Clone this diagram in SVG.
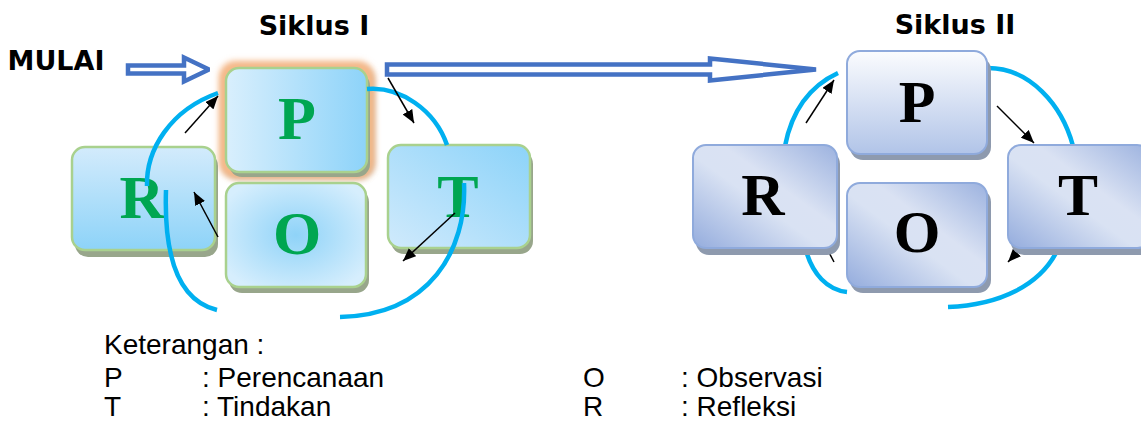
<svg xmlns="http://www.w3.org/2000/svg" width="1141" height="428" viewBox="0 0 1141 428">
  <defs>
    <style>
      .b1{stroke:#a9d18e;stroke-width:2.5}
      .b2{stroke:#8faadc;stroke-width:2}
      .sh1{fill:#98a68b}
      .sh2{fill:#8e9aae}
      .L1{font-family:"Liberation Serif",serif;font-weight:bold;font-size:62px;fill:#00a651;text-anchor:middle}
      .L2{font-family:"Liberation Serif",serif;font-weight:bold;font-size:60px;fill:#000;text-anchor:middle}
      .arc{fill:none;stroke:#00b0f0;stroke-width:4.5}
      .ar{fill:none;stroke:#000;stroke-width:1.5;marker-end:url(#ah)}
      .dbl{fill:#fff;stroke:#4472c4;stroke-width:4.5;stroke-linejoin:miter;stroke-miterlimit:2}
      .title{font-family:"DejaVu Sans",sans-serif;font-weight:bold;font-size:27px;fill:#000}
      .leg{font-family:"Liberation Sans",sans-serif;font-size:28px;fill:#000}
    </style>
    <marker id="ah" markerUnits="userSpaceOnUse" markerWidth="13" markerHeight="11" refX="13" refY="5.5" orient="auto">
      <path d="M0,0 L13,5.5 L0,11 Z" fill="#000"/>
    </marker>
    <linearGradient id="g1P" x1="0" y1="0" x2="1" y2="0">
      <stop offset="0" stop-color="#d9effd"/>
      <stop offset="1" stop-color="#8dd3f9"/>
    </linearGradient>
    <linearGradient id="g1R" x1="0" y1="0" x2="0" y2="1">
      <stop offset="0" stop-color="#d3ebfc"/>
      <stop offset="1" stop-color="#8dd3f8"/>
    </linearGradient>
    <linearGradient id="g1T" x1="0" y1="1" x2="1" y2="0">
      <stop offset="0" stop-color="#d0eafc"/>
      <stop offset="1" stop-color="#8cd3f9"/>
    </linearGradient>
    <radialGradient id="g1O" cx="0.5" cy="0.5" r="0.6">
      <stop offset="0" stop-color="#8fd3f8"/>
      <stop offset="1" stop-color="#d6eefd"/>
    </radialGradient>
    <linearGradient id="g2P" x1="0" y1="0" x2="0" y2="1">
      <stop offset="0" stop-color="#fbfcfe"/>
      <stop offset="1" stop-color="#b1c4e8"/>
    </linearGradient>
    <linearGradient id="g2D" x1="0" y1="1" x2="1" y2="0">
      <stop offset="0" stop-color="#94acdd"/>
      <stop offset="0.45" stop-color="#d9e2f3"/>
      <stop offset="0.6" stop-color="#dae2f3"/>
      <stop offset="1" stop-color="#9cb2df"/>
    </linearGradient>
    <filter id="glow" x="-20%" y="-20%" width="140%" height="140%">
      <feGaussianBlur stdDeviation="3"/>
    </filter>
  </defs>

  <rect width="1141" height="428" fill="#fff"/>

  <!-- headings -->
  <text class="title" x="314" y="35" text-anchor="middle">Siklus I</text>
  <text class="title" x="955" y="34" text-anchor="middle">Siklus II</text>
  <text class="title" x="56" y="70" text-anchor="middle">MULAI</text>

  <!-- Siklus II connectors sit behind its boxes -->
  <g id="connectors-2">
    <path class="arc" d="M988,68 C1030,68 1062,105 1073,146"/>
    <path class="arc" d="M785,146 C792,110 810,86 838,73"/>
    <path class="arc" d="M805,247 C812,275 828,290 847,292"/>
    <path class="arc" d="M1057,251 C1040,285 1000,305 948,307"/>
    <path class="ar" d="M806,123 L834,80"/>
    <path class="ar" d="M997,106 L1034,143"/>
    <path class="ar" d="M834,262 L815,226"/>
    <path class="ar" d="M1040,228 L1008,262"/>
  </g>

  <!-- Siklus I nodes -->
  <g id="c1-P">
    <rect x="223" y="66" width="151" height="113" rx="15" fill="#b07a48" opacity="0.7" filter="url(#glow)"/>
    <rect x="219" y="61" width="155" height="117" rx="16" fill="#f6b989" filter="url(#glow)"/>
    <rect class="sh1" x="229" y="73" width="141" height="104" rx="13"/>
    <rect class="b1" x="226" y="68" width="141" height="104" rx="13" fill="url(#g1P)"/>
    <text class="L1" x="297" y="139">P</text>
  </g>
  <g id="c1-R">
    <rect class="sh1" x="75" y="153" width="143" height="104" rx="13"/>
    <rect class="b1" x="72" y="147" width="143" height="103" rx="13" fill="url(#g1R)"/>
    <text class="L1" x="142" y="218">R</text>
  </g>
  <g id="c1-O">
    <rect class="sh1" x="229" y="189" width="140" height="104" rx="13"/>
    <rect class="b1" x="226" y="183" width="140" height="104" rx="13" fill="url(#g1O)"/>
    <text class="L1" x="297" y="254">O</text>
  </g>
  <g id="c1-T">
    <rect class="sh1" x="391" y="151" width="142" height="103" rx="13"/>
    <rect class="b1" x="388" y="145" width="142" height="103" rx="13" fill="url(#g1T)"/>
    <text class="L1" x="458" y="217">T</text>
  </g>

  <!-- Siklus I connectors drawn over its boxes -->
  <g id="connectors-1">
    <path class="dbl" d="M128,65.5 L184,65.5 L184,57.5 L209,69.5 L184,81.5 L184,73.5 L128,73.5 Z"/>
    <path class="dbl" d="M387,64.5 L710,64.5 L710,58.5 L816,69.5 L710,80.5 L710,74.5 L387,74.5 Z"/>
    <path class="arc" d="M367,89 C400,86 435,110 447,145"/>
    <path class="arc" d="M147,186 C146,150 170,110 218,93"/>
    <path class="arc" d="M166,190 C164,250 175,300 217,310"/>
    <path class="arc" d="M464,183 C467,250 430,315 340,317"/>
    <path class="ar" d="M185,133 L218,96"/>
    <path class="ar" d="M388,78 L414,123"/>
    <path class="ar" d="M455,213 L403,261"/>
    <path class="ar" d="M218,237 L194,192"/>
  </g>

  <!-- Siklus II nodes -->
  <g id="c2-P">
    <rect class="sh2" x="850" y="57" width="141" height="103" rx="13"/>
    <rect class="b2" x="847" y="51" width="140" height="103" rx="13" fill="url(#g2P)"/>
    <text class="L2" x="917" y="122">P</text>
  </g>
  <g id="c2-R">
    <rect class="sh2" x="696" y="151" width="144" height="104" rx="13"/>
    <rect class="b2" x="693" y="145" width="144" height="103" rx="13" fill="url(#g2D)"/>
    <text class="L2" x="763" y="215">R</text>
  </g>
  <g id="c2-O">
    <rect class="sh2" x="850" y="189" width="141" height="104" rx="13"/>
    <rect class="b2" x="847" y="183" width="140" height="104" rx="13" fill="url(#g2D)"/>
    <text class="L2" x="917" y="252">O</text>
  </g>
  <g id="c2-T">
    <rect class="sh2" x="1011" y="151" width="142" height="104" rx="13"/>
    <rect class="b2" x="1008" y="145" width="142" height="103" rx="13" fill="url(#g2D)"/>
    <text class="L2" x="1078" y="215">T</text>
  </g>

  <!-- legend -->
  <g id="legend">
    <text class="leg" x="104" y="354">Keterangan :</text>
    <text class="leg" x="104" y="387">P</text>
    <text class="leg" x="202" y="387">: Perencanaan</text>
    <text class="leg" x="104" y="416">T</text>
    <text class="leg" x="202" y="416">: Tindakan</text>
    <text class="leg" x="583" y="387">O</text>
    <text class="leg" x="681" y="387">: Observasi</text>
    <text class="leg" x="583" y="416">R</text>
    <text class="leg" x="681" y="416">: Refleksi</text>
  </g>
</svg>
